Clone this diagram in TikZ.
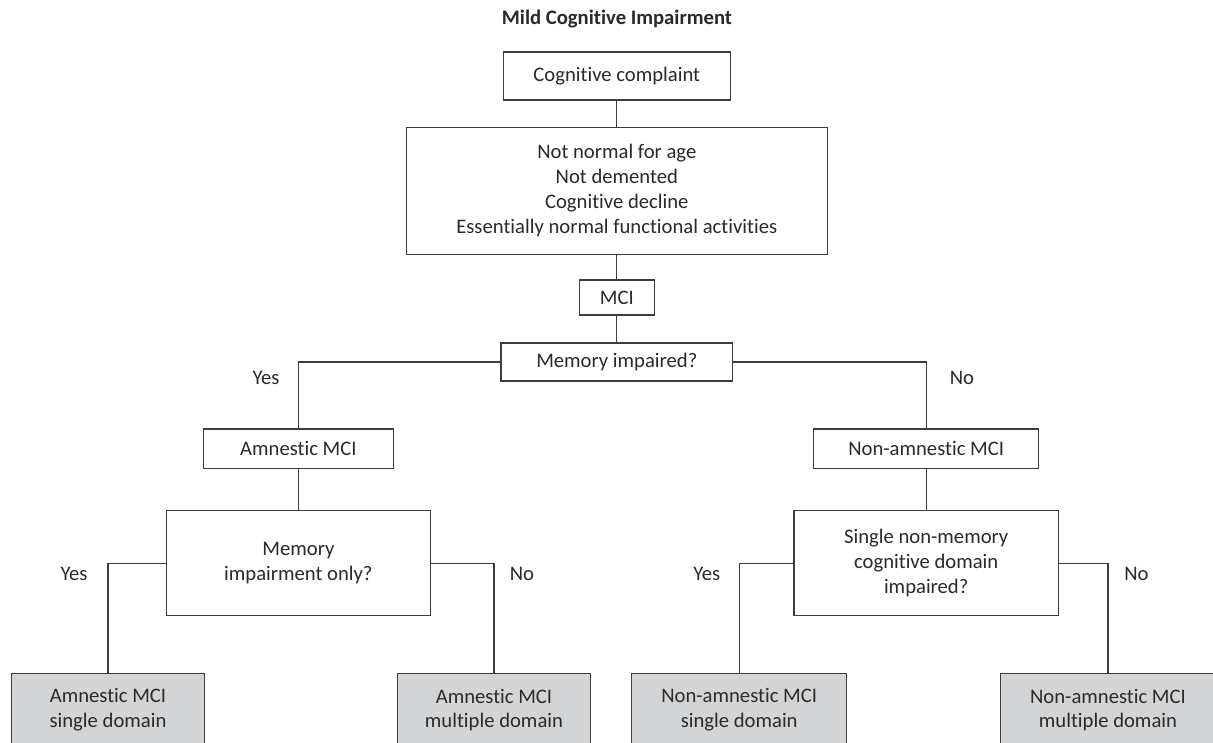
\documentclass[tikz,border=0pt]{standalone}
\usepackage{fontspec}
\setmainfont{Carlito}[Ligatures=NoCommon]
\usepackage{tikz}
\usetikzlibrary{positioning,calc}
\usepackage{xcolor}
\definecolor{ink}{HTML}{2A2A2A}
\definecolor{edge}{HTML}{3C3C3C}
\definecolor{leafgray}{HTML}{D3D4D6}

\begin{document}
\begin{tikzpicture}[
    box/.style={draw=edge, line width=0.9pt, fill=white, align=center, inner sep=2pt},
    leaf/.style={box, fill=leafgray, minimum height=1.825cm},
    answer/.style={ink},
    every node/.style={text=ink, font=\fontsize{14.7}{17.6}\selectfont},
    link/.style={draw=edge, line width=0.9pt}
  ]
  \path[use as bounding box, clip] (0,0) rectangle (30.325,-18.55);

  % Title
  \node[font=\fontsize{14.7}{17.6}\selectfont\bfseries] (title) at (15.425,-0.475) {Mild Cognitive Impairment};

  % Central column
  \node[box, minimum width=5.675cm, minimum height=1.2cm] (complaint) at (15.42,-1.9) {Cognitive complaint};
  \node[box, minimum width=10.52cm, minimum height=3.17cm, font=\fontsize{14.7}{17.8}\selectfont] (criteria) at (15.42,-4.77)
    {Not normal for age\\Not demented\\Cognitive decline\\Essentially normal functional activities};
  \node[box, minimum width=1.875cm, minimum height=0.875cm] (mci) at (15.42,-7.44) {MCI};
  \node[box, minimum width=5.79cm, minimum height=0.95cm] (memq) at (15.42,-9.05) {Memory impaired?};

  % Second level
  \node[box, minimum width=4.75cm, minimum height=0.99cm] (amn) at (7.46,-11.22) {Amnestic MCI};
  \node[box, minimum width=5.625cm, minimum height=0.99cm] (nonamn) at (23.155,-11.22) {Non-amnestic MCI};
  \node[box, minimum width=6.59cm, minimum height=2.63cm, font=\fontsize{14.7}{18.2}\selectfont] (onlyq) at (7.46,-14.08)
    {Memory\\impairment only?};
  \node[box, minimum width=6.61cm, minimum height=2.63cm, font=\fontsize{14.7}{17.8}\selectfont] (singleq) at (23.155,-14.08)
    {Single non-memory\\cognitive domain\\impaired?};

  % Outcomes
  \node[leaf, minimum width=4.815cm] (amnsingle) at (2.7,-17.75) {Amnestic MCI\\single domain};
  \node[leaf, minimum width=4.815cm] (amnmulti) at (12.35,-17.75) {Amnestic MCI\\multiple domain};
  \node[leaf, minimum width=5.375cm] (nonsingle) at (18.48,-17.75) {Non-amnestic MCI\\single domain};
  \node[leaf, minimum width=5.375cm] (nonmulti) at (27.7,-17.75) {Non-amnestic MCI\\multiple domain};

  % Connectors
  \draw[link] (complaint) -- (criteria);
  \draw[link] (criteria) -- (mci);
  \draw[link] (mci) -- (memq);
  \draw[link] (memq.west) -| (amn.north);
  \draw[link] (memq.east) -| (nonamn.north);
  \draw[link] (amn) -- (onlyq);
  \draw[link] (nonamn) -- (singleq);
  \draw[link] (onlyq.west) -| (amnsingle.north);
  \draw[link] (onlyq.east) -| (amnmulti.north);
  \draw[link] (singleq.west) -| (nonsingle.north);
  \draw[link] (singleq.east) -| (nonmulti.north);

  % Yes / No
  \node[answer] (yes1) at (6.65,-9.45) {Yes};
  \node[answer] (no1) at (24.05,-9.45) {No};
  \node[answer] (yes2) at (1.85,-14.36) {Yes};
  \node[answer] (no2) at (13.05,-14.36) {No};
  \node[answer] (yes3) at (17.67,-14.36) {Yes};
  \node[answer] (no3) at (28.41,-14.36) {No};
\end{tikzpicture}
\end{document}
